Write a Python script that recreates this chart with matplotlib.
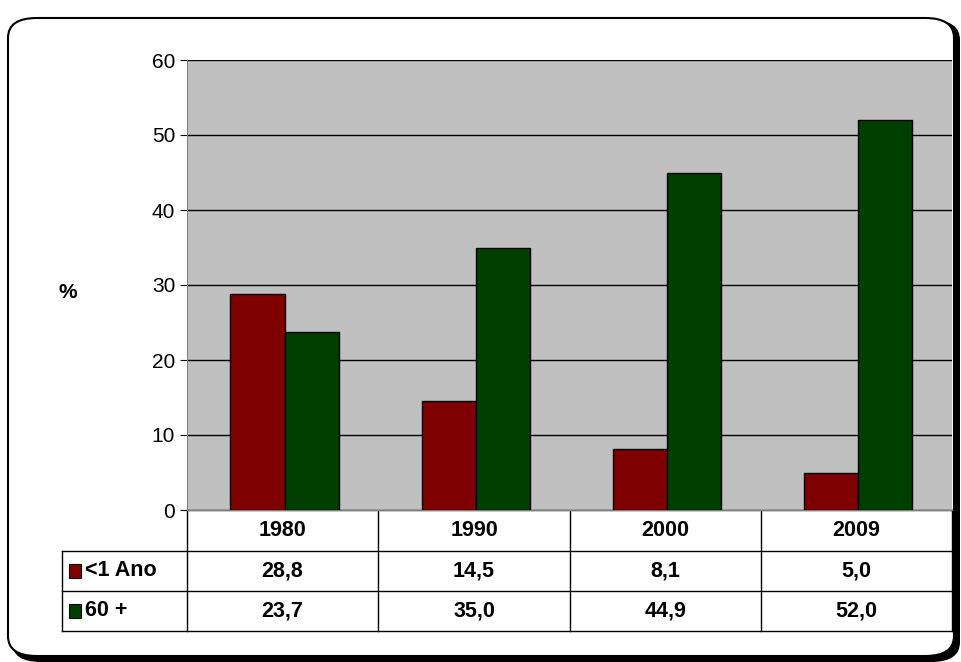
import matplotlib.pyplot as plt
import numpy as np
from matplotlib.patches import FancyBboxPatch, Rectangle
from matplotlib.lines import Line2D

plt.rcParams['font.family'] = ['Liberation Sans', 'DejaVu Sans']

years = ['1980', '1990', '2000', '2009']
under1 = [28.8, 14.5, 8.1, 5.0]
over60 = [23.7, 35.0, 44.9, 52.0]
labels = ['<1 Ano', '60 +']
colors = ['#7f0000', '#003f00']

W, H = 961, 662
fig = plt.figure(figsize=(W / 100, H / 100), dpi=100)

def fx(px):
    return px / W

def fy(py):
    return 1 - py / H

# rounded frame with shadow
fig.patches.append(FancyBboxPatch((fx(12), fy(662)), fx(948), fy(20) - fy(662),
                                  boxstyle='round,pad=0,rounding_size=0.03',
                                  transform=fig.transFigure, fc='black', ec='none', zorder=-2))
fig.patches.append(FancyBboxPatch((fx(8), fy(656)), fx(946), fy(18) - fy(656),
                                  boxstyle='round,pad=0,rounding_size=0.03',
                                  transform=fig.transFigure, fc='white', ec='black', lw=1.5, zorder=-1))

ax = fig.add_axes([fx(187), fy(510), fx(952) - fx(187), fy(60) - fy(510)])
ax.set_zorder(2)
ax.set_facecolor('#c0c0c0')
x = np.arange(len(years))
w = 0.283
ax.bar(x - w / 2 + 0.01, under1, w, color=colors[0], edgecolor='black', lw=1, zorder=3)
ax.bar(x + w / 2 + 0.01, over60, w, color=colors[1], edgecolor='black', lw=1, zorder=3)
ax.set_xlim(-0.5, 3.5)
ax.set_ylim(0, 60)
ax.set_yticks(range(0, 61, 10))
ax.tick_params(axis='y', labelsize=15, length=5, direction='out')
ax.set_xticks([])
ax.yaxis.grid(True, color='black', lw=1, zorder=1)
ax.set_axisbelow(True)
for s in ['top', 'right']:
    ax.spines[s].set_visible(False)
for s in ['left', 'bottom']:
    ax.spines[s].set_color('#808080')
fig.text(fx(68), fy(293), '%', fontsize=15, fontweight='bold', ha='center', va='center')

# data table
col_x = [62, 187, 378, 570, 761, 952]
row_y = [510, 551, 591, 631]
lc = 'black'
fs = 15.5
for yy in row_y[1:]:
    fig.add_artist(Line2D([fx(62), fx(952)], [fy(yy), fy(yy)], color=lc, lw=1))
fig.add_artist(Line2D([fx(187), fx(952)], [fy(510), fy(510)], color=lc, lw=1))
fig.add_artist(Line2D([fx(62), fx(62)], [fy(551), fy(631)], color=lc, lw=1))
for cx in col_x[1:]:
    fig.add_artist(Line2D([fx(cx), fx(cx)], [fy(510), fy(631)], color=lc, lw=1))
for i, yr in enumerate(years):
    cx = (col_x[i + 1] + col_x[i + 2]) / 2
    fig.text(fx(cx), fy(531), yr, fontsize=fs, fontweight='bold', ha='center', va='center')
    fig.text(fx(cx), fy(571), f'{under1[i]:.1f}'.replace('.', ','), fontsize=fs,
             fontweight='bold', ha='center', va='center')
    fig.text(fx(cx), fy(611), f'{over60[i]:.1f}'.replace('.', ','), fontsize=fs,
             fontweight='bold', ha='center', va='center')
for j, (lab, c) in enumerate(zip(labels, colors)):
    yc = (row_y[j + 1] + row_y[j + 2]) / 2
    fig.add_artist(Rectangle((fx(69), fy(yc + 7)), fx(12), fy(yc - 7) - fy(yc + 7),
                             transform=fig.transFigure, fc=c, ec='black', lw=0.8))
    fig.text(fx(85), fy(yc), lab, fontsize=fs, fontweight='bold', ha='left', va='center')

fig.savefig('out.png', dpi=100)
